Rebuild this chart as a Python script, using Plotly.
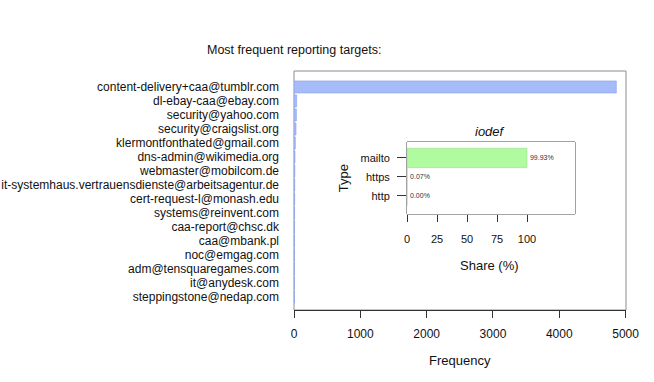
import plotly.graph_objects as go

# main chart data
targets = [
    "content-delivery+caa@tumblr.com",
    "dl-ebay-caa@ebay.com",
    "security@yahoo.com",
    "security@craigslist.org",
    "klermontfonthated@gmail.com",
    "dns-admin@wikimedia.org",
    "webmaster@mobilcom.de",
    "it-systemhaus.vertrauensdienste@arbeitsagentur.de",
    "cert-request-l@monash.edu",
    "systems@reinvent.com",
    "caa-report@chsc.dk",
    "caa@mbank.pl",
    "noc@emgag.com",
    "adm@tensquaregames.com",
    "it@anydesk.com",
    "steppingstone@nedap.com",
]
freq = [4860, 40, 36, 30, 20, 15, 12, 11, 10, 9, 8, 8, 7, 7, 6, 6]

# inset data
types = ["mailto", "https", "http"]
share = [99.93, 0.07, 0.00]
share_labels = ["99.93%", "0.07%", "0.00%"]

FONT = "Liberation Sans, Arial, sans-serif"
DARK = "#333333"

fig = go.Figure()

fig.add_trace(go.Bar(
    x=freq, y=targets, orientation="h",
    marker=dict(color="#a6bbfa", line=dict(color="#8aa0ee", width=0.6)),
    width=0.86, xaxis="x", yaxis="y", showlegend=False,
))

fig.add_trace(go.Bar(
    x=share, y=types, orientation="h",
    marker=dict(color="#b0faa0", line=dict(color="#98e088", width=0.6)),
    width=1.02, xaxis="x2", yaxis="y2", showlegend=False,
    text=share_labels, textposition="outside", cliponaxis=False,
    textfont=dict(size=7, color=DARK, family=FONT),
))

fig.update_layout(
    width=654, height=382,
    margin=dict(l=294, r=28, t=71, b=72, autoexpand=False),
    paper_bgcolor="white", plot_bgcolor="white",
    font=dict(family=FONT, size=12, color="#111111"),
    xaxis=dict(
        range=[0, 5006], tickvals=[0, 1000, 2000, 3000, 4000, 5000],
        showgrid=False, zeroline=False, showline=True, linecolor=DARK,
        ticks="outside", ticklen=7, tickcolor=DARK, tickfont=dict(size=12),
        ticklabelstandoff=6, automargin=False,
    ),
    yaxis=dict(
        type="category", categoryorder="array", categoryarray=targets,
        range=[15.93, -1.14], showgrid=False, zeroline=False,
        showline=False, ticks="", ticklabelstandoff=14, tickfont=dict(size=12),
        automargin=False,
    ),
    xaxis2=dict(
        domain=[0.3404, 0.8464], anchor="y2", range=[0, 140],
        tickvals=[0, 25, 50, 75, 100],
        showgrid=False, zeroline=False, showline=False,
        ticks="outside", ticklen=7, tickcolor=DARK, tickfont=dict(size=11),
        ticklabelstandoff=8, automargin=False,
    ),
    yaxis2=dict(
        domain=[0.4017, 0.7029], anchor="x2", type="category",
        categoryorder="array", categoryarray=types,
        range=[2.95, -0.84], showgrid=False, zeroline=False, showline=False,
        ticks="outside", ticklen=9, tickcolor=DARK, tickfont=dict(size=11),
        ticklabelstandoff=5, automargin=False,
    ),
    shapes=[
        dict(type="rect", xref="paper", yref="paper", x0=0, x1=1, y0=0, y1=1,
             line=dict(color="#8c8c8c", width=1), layer="below"),
        dict(type="rect", xref="x2 domain", yref="y2 domain", x0=0, x1=1, y0=0, y1=1,
             line=dict(color="#444444", width=1), fillcolor="white", layer="below"),
    ],
    annotations=[
        dict(text="Most frequent reporting targets:", xref="paper", yref="paper",
             x=-0.268, y=1.088, xanchor="left", yanchor="middle", showarrow=False,
             font=dict(size=12.5)),
        dict(text="Frequency", xref="paper", yref="paper", x=0.5, y=0,
             yshift=-50, yanchor="middle", showarrow=False, font=dict(size=13)),
        dict(text="<i>iodef</i>", xref="paper", yref="paper", x=0.590, y=0.745,
             yanchor="middle", showarrow=False, font=dict(size=13)),
        dict(text="Share (%)", xref="paper", yref="paper", x=0.590, y=0.188,
             yanchor="middle", showarrow=False, font=dict(size=13)),
        dict(text="Type", xref="paper", yref="paper", x=0.148, y=0.552,
             textangle=-90, xanchor="center", yanchor="middle", showarrow=False,
             font=dict(size=13)),
    ],
)

# drop the browser's default 8px body margin so the figure sits at 0,0
fig.write_html("out.html", config={"displayModeBar": False},
               post_script="document.body.style.margin='0';")
